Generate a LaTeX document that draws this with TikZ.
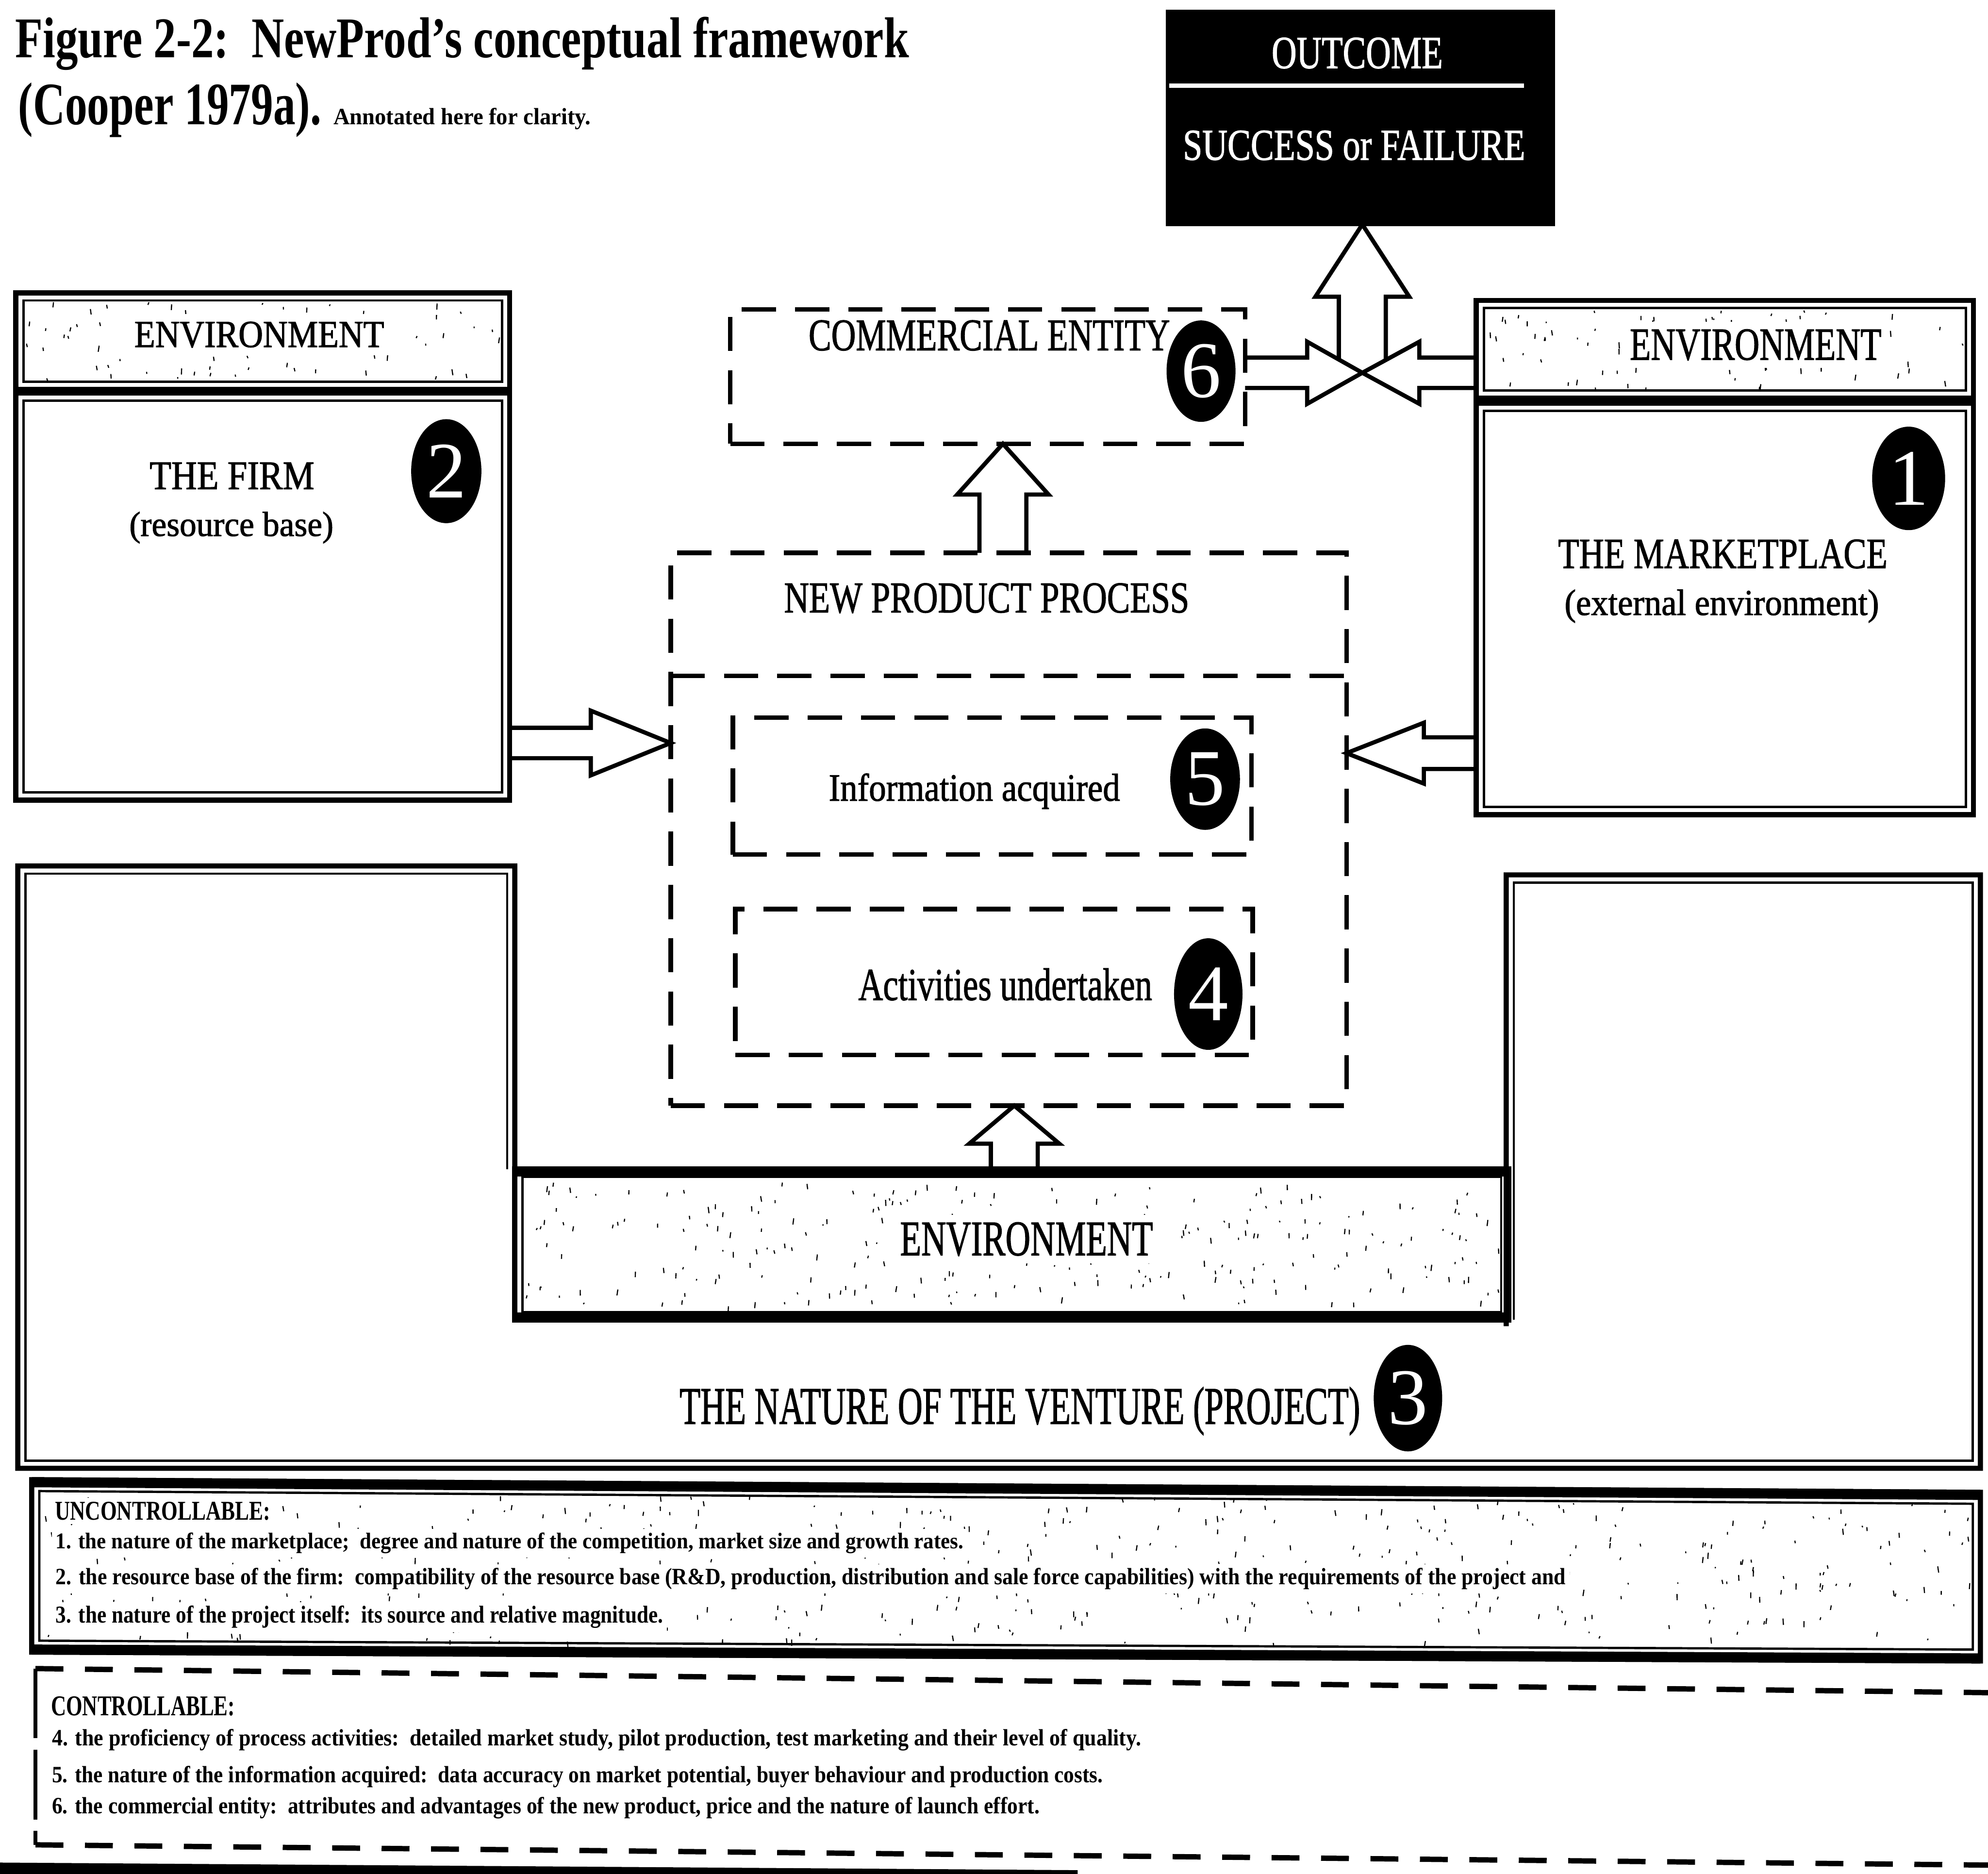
\documentclass[tikz,border=0pt]{standalone}
\usepackage{fontspec}
\setmainfont{Liberation Serif}
\newfontfamily\inkfont[FakeBold=1.5]{Liberation Serif}
\usepackage{graphicx}
\usetikzlibrary{calc,shapes.geometric}

\pgfdeclarelayer{back}
\pgfsetlayers{back,main}

% text squeezed to a given width and cap/ascender height (both in mm)
\newcommand\fitbox[3]{\resizebox{#1mm}{#2mm}{#3}}
% same, set in the heavier label face
\newcommand\inkbox[3]{\resizebox{#1mm}{#2mm}{\inkfont #3}}

% rectangular node spanning (x1,y1)-(x2,y2), picture units
\newcommand\panel[6][]{%
  \pgfmathsetmacro\pw{(#5-#3)*0.1}%
  \pgfmathsetmacro\ph{(#6-#4)*0.1}%
  \node[inner sep=0pt, outer sep=0pt, minimum width=\pw mm, minimum height=\ph mm, #1] (#2) at ({(#3+#5)/2},{(#4+#6)/2}) {};}

% thin second rule inside a heavy frame
\newcommand\innerframe[1]{%
  \draw[finerule] ([shift={(0.6mm,-0.6mm)}]#1.north west) rectangle ([shift={(-0.6mm,0.6mm)}]#1.south east);}

% hollow block arrow: tail, tip, shaft half-width, head length, head half-width
\newcommand\blockarrow[5]{%
  \path ($(#2)!#4!(#1)$) coordinate (bahead);
  \filldraw[blockarrow] ($(#1)!#3!90:(#2)$) -- ($(bahead)!#3!90:(#2)$) -- ($(bahead)!#5!90:(#2)$)
    -- (#2) -- ($(bahead)!#5!-90:(#2)$) -- ($(bahead)!#3!-90:(#2)$) -- ($(#1)!#3!-90:(#2)$);}

% grainy screen of small specks inside a region
\newcommand\speckle[5]{%
  \foreach \k in {1,...,#5}{%
    \pgfmathsetmacro\sx{#1+rnd*(#3-#1)}%
    \pgfmathsetmacro\sy{#2+rnd*(#4-#2)}%
    \pgfmathsetmacro\sl{1+rnd*4}%
    \draw[speck] (\sx,\sy) -- ++({rnd*1.6-0.8},\sl);}}

\tikzset{
  heavyrule/.style={draw=black, line width=0.4mm},
  finerule/.style={draw=black, line width=0.18mm},
  dashbox/.style={draw=black, line width=0.36mm, dash pattern=on 2.7mm off 1.5mm},
  ctrldash/.style={draw=black, line width=0.42mm, dash pattern=on 2.2mm off 1.7mm},
  blockarrow/.style={draw=black, fill=white, line width=0.33mm, line join=miter},
  speck/.style={line width=0.09mm, black},
  txtnode/.style={anchor=base west, inner sep=0pt, outer sep=0pt},
  clearnode/.style={anchor=base west, inner sep=0.6mm, outer sep=0pt, fill=white},
  badge/.style={ellipse, fill=black, inner sep=0pt, text=white, font=\fontsize{18}{18}\selectfont},
}

\begin{document}
\begin{tikzpicture}[x=0.1mm,y=-0.1mm]
\useasboundingbox (0,0) rectangle (1568,1478);
\pgfmathsetseed{2718}

% ---------- title ----------
\node[txtnode] (title1) at (12,45.5) {\fitbox{70.5}{3.2}{\bfseries Figure 2-2:\ \ NewProd's conceptual framework}};
\node[txtnode] (title2) at (14.5,98) {\fitbox{23.9}{3.3}{\bfseries (Cooper 1979a).}};
\node[txtnode] (note) at (263,98) {\fitbox{20.3}{1.3}{\bfseries Annotated here for clarity.}};

% ---------- outcome ----------
\panel[fill=black, draw=black, line width=0.3mm]{outcome}{921}{9}{1225}{177}
\draw[white, line width=0.35mm] (922,67.5) -- (1202,67.5);
\node[txtnode, text=white] (outT) at (1003,53.7) {\inkbox{13.5}{2.4}{OUTCOME}};
\node[txtnode, text=white] (outS) at (933,126) {\inkbox{27.0}{2.3}{SUCCESS or FAILURE}};

% ---------- the firm (left) ----------
\panel[heavyrule]{envL}{12.5}{231}{402}{307}
\panel[heavyrule]{firm}{12.5}{310}{402}{631}
\innerframe{envL}
\innerframe{firm}
\speckle{20}{238}{395}{299}{70}
\node[clearnode] (envLt) at (100,273.7) {\inkbox{19.7}{2.0}{ENVIRONMENT}};
\node[txtnode] (firmT) at (118,385.8) {\inkbox{13.0}{2.1}{THE FIRM}};
\node[txtnode] (firmS) at (102,422.7) {\inkbox{16.1}{1.9}{(resource base)}};
\node[badge, minimum width=5.54mm, minimum height=8.2mm] (c2) at (352,371.6) {2};

% ---------- the marketplace (right) ----------
\panel[heavyrule]{envR}{1164.4}{237}{1556.6}{314}
\panel[heavyrule]{market}{1164.4}{318}{1556.6}{642.5}
\innerframe{envR}
\innerframe{market}
\speckle{1171}{244}{1550}{306}{80}
\node[clearnode] (envRt) at (1279.5,283.7) {\inkbox{19.85}{2.4}{ENVIRONMENT}};
\node[txtnode] (markT) at (1229,448) {\inkbox{25.97}{2.25}{THE MARKETPLACE}};
\node[txtnode] (markS) at (1234,485) {\inkbox{24.8}{2.0}{(external environment)}};
\node[badge, minimum width=5.76mm, minimum height=8.16mm] (c1) at (1505.4,377.3) {1};

% ---------- commercial entity ----------
\panel[dashbox]{ce}{576}{244}{982}{350}
\node[txtnode] (ceT) at (637.8,276.2) {\inkbox{28.5}{2.36}{COMMERCIAL ENTITY}};
\node[badge, minimum width=5.44mm, minimum height=8.0mm] (c6) at (947.3,292.7) {6};

% ---------- new product process ----------
\panel[dashbox]{npp}{529}{436}{1062}{872}
\draw[dashbox] (npp.west |- 0,533) -- (npp.east |- 0,533);
\node[txtnode] (nppT) at (618.5,483) {\inkbox{31.95}{2.3}{NEW PRODUCT PROCESS}};
\panel[dashbox]{info}{578}{566}{987}{674}
\node[txtnode] (infoT) at (653.7,631.5) {\inkbox{22.97}{2.15}{Information acquired}};
\node[badge, minimum width=5.5mm, minimum height=8.0mm] (c5) at (950.5,614.5) {5};
\panel[dashbox]{acts}{580}{717}{988}{832}
\node[txtnode] (actsT) at (677,788.7) {\inkbox{23.17}{2.5}{Activities undertaken}};
\node[badge, minimum width=5.4mm, minimum height=8.8mm] (c4) at (953,784) {4};

% ---------- nature of the venture ----------
\panel[heavyrule]{envB}{406}{922}{1190}{1041}
\innerframe{envB}
\fill ([yshift=0.2mm]envB.north west) rectangle ([yshift=-0.6mm]envB.north east);
\fill ([yshift=0.6mm]envB.south west) rectangle ([yshift=-0.2mm]envB.south east);
\speckle{414}{932}{1182}{1031}{260}
\node[clearnode] (envBt) at (704,990) {\inkbox{19.94}{2.6}{ENVIRONMENT}};
\draw[heavyrule] (envB.north west) -- (406,683) -- (14,683) -- (14,1158) -- (1562,1158) -- (1562,690) -- (1188,690) -- (1188,1046);
\draw[finerule] (400,922) -- (400,689) -- (20,689) -- (20,1152) -- (1556,1152) -- (1556,696) -- (1194,696) -- (1194,1041);
\node[txtnode] (natT) at (536,1123) {\inkbox{53.68}{2.9}{THE NATURE OF THE VENTURE (PROJECT)}};
\node[badge, minimum width=5.4mm, minimum height=8.4mm] (c3) at (1110.5,1102.7) {3};

% ---------- uncontrollable factors ----------
\coordinate (uTL) at (25,1167);
\coordinate (uTR) at (1562,1177);
\coordinate (uBR) at (1562,1310);
\coordinate (uBL) at (25,1303);
\draw[heavyrule] (uTL) -- (uTR) -- (uBR) -- (uBL) -- cycle;
\draw[line width=0.8mm] ($(uTL)+(0,2)$) -- ($(uTR)+(0,2)$);
\draw[line width=0.8mm] ($(uBL)+(0,-2)$) -- ($(uBR)+(0,-2)$);
\draw[finerule] ($(uTL)+(6,9)$) -- ($(uTR)+(-6,9)$) -- ($(uBR)+(-6,-9)$) -- ($(uBL)+(6,-9)$) -- cycle;
\speckle{33}{1180}{1554}{1296}{450}
\node[clearnode, inner sep=0.3mm] (uncH) at (40.3,1198.7) {\fitbox{17.0}{1.42}{\bfseries UNCONTROLLABLE:}};
\node[clearnode, inner sep=0.3mm] (unc1) at (41,1221.5) {\fitbox{71.6}{1.25}{\bfseries 1. the nature of the marketplace;\ \ degree and nature of the competition, market size and growth rates.}};
\node[clearnode, inner sep=0.3mm] (unc2) at (41,1249.8) {\fitbox{119.1}{1.3}{\bfseries 2. the resource base of the firm:\ \ compatibility of the resource base (R\&D, production, distribution and sale force capabilities) with the requirements of the project and}};
\node[clearnode, inner sep=0.3mm] (unc3) at (41,1280) {\fitbox{47.9}{1.35}{\bfseries 3. the nature of the project itself:\ \ its source and relative magnitude.}};

% ---------- controllable factors ----------
\coordinate (cTL) at (28,1316);
\coordinate (cTR) at (1568,1335);
\coordinate (cBL) at (28,1455);
\coordinate (cBR) at (1568,1471);
\draw[ctrldash] (cTL) -- (cTR);
\draw[ctrldash] (cBL) -- (cBR);
\draw[line width=0.3mm, dash pattern=on 5.5mm off 0.9mm] (cTL) -- (cBL);
\node[txtnode] (ctlH) at (40.3,1352.9) {\fitbox{14.5}{1.5}{\bfseries CONTROLLABLE:}};
\node[txtnode] (ctl4) at (41,1376.6) {\fitbox{85.9}{1.3}{\bfseries 4. the proficiency of process activities:\ \ detailed market study, pilot production, test marketing and their level of quality.}};
\node[txtnode] (ctl5) at (41,1405.9) {\fitbox{82.9}{1.3}{\bfseries 5. the nature of the information acquired:\ \ data accuracy on market potential, buyer behaviour and production costs.}};
\node[txtnode] (ctl6) at (41,1430.5) {\fitbox{77.9}{1.3}{\bfseries 6. the commercial entity:\ \ attributes and advantages of the new product, price and the nature of launch effort.}};

% page rule at the foot
\fill (0,1469) -- (850,1475) -- (850,1478) -- (0,1478) -- cycle;

% ---------- block arrows ----------
\coordinate (xc) at (1074.5,294);
\coordinate (a1t) at (1074.5,284);
\coordinate (a1h) at (outcome.south -| xc);
\coordinate (a2t) at (ce.east |- xc);
\coordinate (a3t) at (envR.west |- xc);
\coordinate (a4x) at (791,0);
\coordinate (a4t) at (npp.north -| a4x);
\coordinate (a4h) at (ce.south -| a4x);
\coordinate (a5y) at (0,586);
\coordinate (a5t) at (firm.east |- a5y);
\coordinate (a5h) at (npp.west |- a5y);
\coordinate (a6y) at (0,594);
\coordinate (a6t) at (market.west |- a6y);
\coordinate (a6h) at (npp.east |- a6y);
\coordinate (a7x) at (800,0);
\coordinate (a7t) at (envB.north -| a7x);
\coordinate (a7h) at (npp.south -| a7x);
\begin{pgfonlayer}{back}
\blockarrow{a1t}{a1h}{1.85mm}{5.7mm}{3.7mm}
\blockarrow{a2t}{xc}{1.2mm}{4.35mm}{2.45mm}
\blockarrow{a3t}{xc}{1.2mm}{4.5mm}{2.45mm}
\blockarrow{a4t}{a4h}{1.85mm}{4.0mm}{3.6mm}
\blockarrow{a5t}{a5h}{1.2mm}{6.3mm}{2.55mm}
\blockarrow{a6t}{a6h}{1.25mm}{6.1mm}{2.4mm}
\blockarrow{a7t}{a7h}{1.85mm}{3.0mm}{3.55mm}
\end{pgfonlayer}
\end{tikzpicture}
\end{document}
